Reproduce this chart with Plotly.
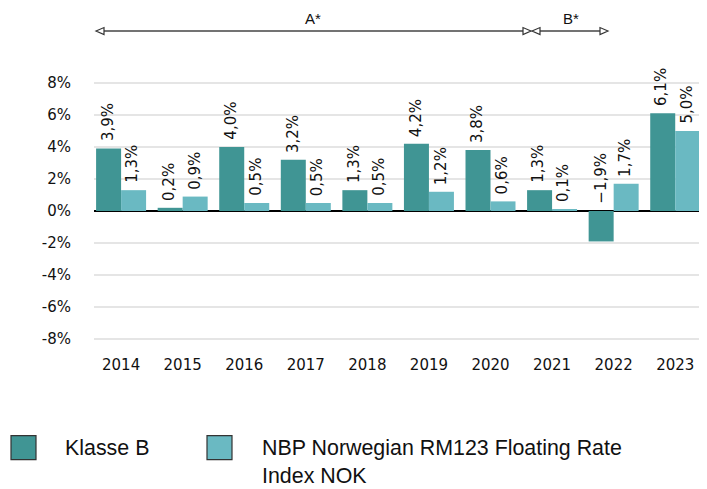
import plotly.graph_objects as go

years = ["2014", "2015", "2016", "2017", "2018", "2019", "2020", "2021", "2022", "2023"]
klasse_b = [3.9, 0.2, 4.0, 3.2, 1.3, 4.2, 3.8, 1.3, -1.9, 6.1]
benchmark = [1.3, 0.9, 0.5, 0.5, 0.5, 1.2, 0.6, 0.1, 1.7, 5.0]
series_names = ["Klasse B", "NBP Norwegian RM123 Floating Rate<br>Index NOK"]
y_ticks = [-8, -6, -4, -2, 0, 2, 4, 6, 8]
y_tick_labels = ["-8%", "-6%", "-4%", "-2%", "0%", "2%", "4%", "6%", "8%"]

C_DARK = "#409594"
C_LIGHT = "#6ab9c2"

OFF = 8  # page body margin offset
W, H = 707 - OFF, 489 - OFF
L, R = 94 - OFF, 1
YMAX = 8.8
PX_PER_UNIT = 16.04
T = 70 - OFF
PH = 2 * YMAX * PX_PER_UNIT
B = H - T - PH
PW = W - L - R


def px(x):
    return (x - OFF - L) / PW


def py(y):
    return (T + PH - (y - OFF)) / PH


def fmt(v):
    s = f"{abs(v):.1f}".replace(".", ",") + "%"
    return ("\u2212" + s) if v < 0 else s


fig = go.Figure()
fig.add_trace(go.Bar(x=years, y=klasse_b, marker=dict(color=C_DARK, line=dict(width=0)),
                     name="Klasse B", showlegend=False))
fig.add_trace(go.Bar(x=years, y=benchmark, marker=dict(color=C_LIGHT, line=dict(width=0)),
                     name="NBP", showlegend=False))

annotations = []
shapes = []
label_font = dict(family="DejaVu Sans", size=15, color="#111")
for vals, shift in ((klasse_b, -13.5), (benchmark, 11.5)):
    for j, v in enumerate(vals):
        annotations.append(dict(x=j, y=max(v, 0), xref="x", yref="y", text=fmt(v),
                                showarrow=False, textangle=-90, yanchor="bottom",
                                xanchor="center", xshift=shift, yshift=5, font=label_font))

# Period arrows
line_y = 31
periods = [("A*", 96, 531, 313), ("B*", 532, 608, 571)]
for label, x0, x1, xc in periods:
    shapes.append(dict(type="line", xref="paper", yref="paper", x0=px(x0 + 7), x1=px(x1 - 7),
                       y0=py(line_y), y1=py(line_y), line=dict(color="#444", width=1.5)))
    shapes.append(dict(type="path", xref="paper", yref="paper",
                       path=f"M{px(x0)},{py(line_y)} L{px(x0+8)},{py(line_y-3.5)} L{px(x0+8)},{py(line_y+3.5)} Z",
                       fillcolor="white", line=dict(color="#333", width=1.2)))
    shapes.append(dict(type="path", xref="paper", yref="paper",
                       path=f"M{px(x1)},{py(line_y)} L{px(x1-8)},{py(line_y-3.5)} L{px(x1-8)},{py(line_y+3.5)} Z",
                       fillcolor="white", line=dict(color="#333", width=1.2)))
    annotations.append(dict(x=px(xc), y=py(18), xref="paper", yref="paper", text=label,
                            showarrow=False, xanchor="center", yanchor="middle",
                            font=dict(family="Liberation Sans", size=15, color="#111")))

# Legend
leg_font = dict(family="Liberation Sans", size=21.4, color="#111")
for (bx, tx, col, name) in ((11, 63, C_DARK, series_names[0]), (207, 260, C_LIGHT, series_names[1])):
    shapes.append(dict(type="rect", xref="paper", yref="paper", x0=px(bx), x1=px(bx + 25),
                       y0=py(460), y1=py(436), fillcolor=col, line=dict(color="#333", width=1.2)))
    annotations.append(dict(x=px(tx), y=py(434), xref="paper", yref="paper", text=name,
                            showarrow=False, xanchor="left", yanchor="top", align="left",
                            font=leg_font))

fig.update_layout(
    width=W, height=H,
    margin=dict(l=L, r=R, t=T, b=B, pad=0),
    paper_bgcolor="white", plot_bgcolor="white",
    barmode="group", bargap=0.188, bargroupgap=0,
    annotations=annotations, shapes=shapes,
    font=dict(family="DejaVu Sans", size=15, color="#111"),
    xaxis=dict(type="category", range=[-0.44, 9.5], showgrid=False, showline=False,
               ticks="", ticklabelstandoff=2,
               tickfont=dict(family="DejaVu Sans", size=15, color="#111")),
    yaxis=dict(range=[-YMAX, YMAX], tickvals=y_ticks, ticktext=y_tick_labels,
               showgrid=True, gridcolor="#e5e5e5", gridwidth=1.7,
               zeroline=True, zerolinecolor="#000", zerolinewidth=1.5,
               showline=False, ticks="", ticklabelstandoff=22,
               tickfont=dict(family="DejaVu Sans", size=15, color="#111")),
)

fig.write_html("out.html")
